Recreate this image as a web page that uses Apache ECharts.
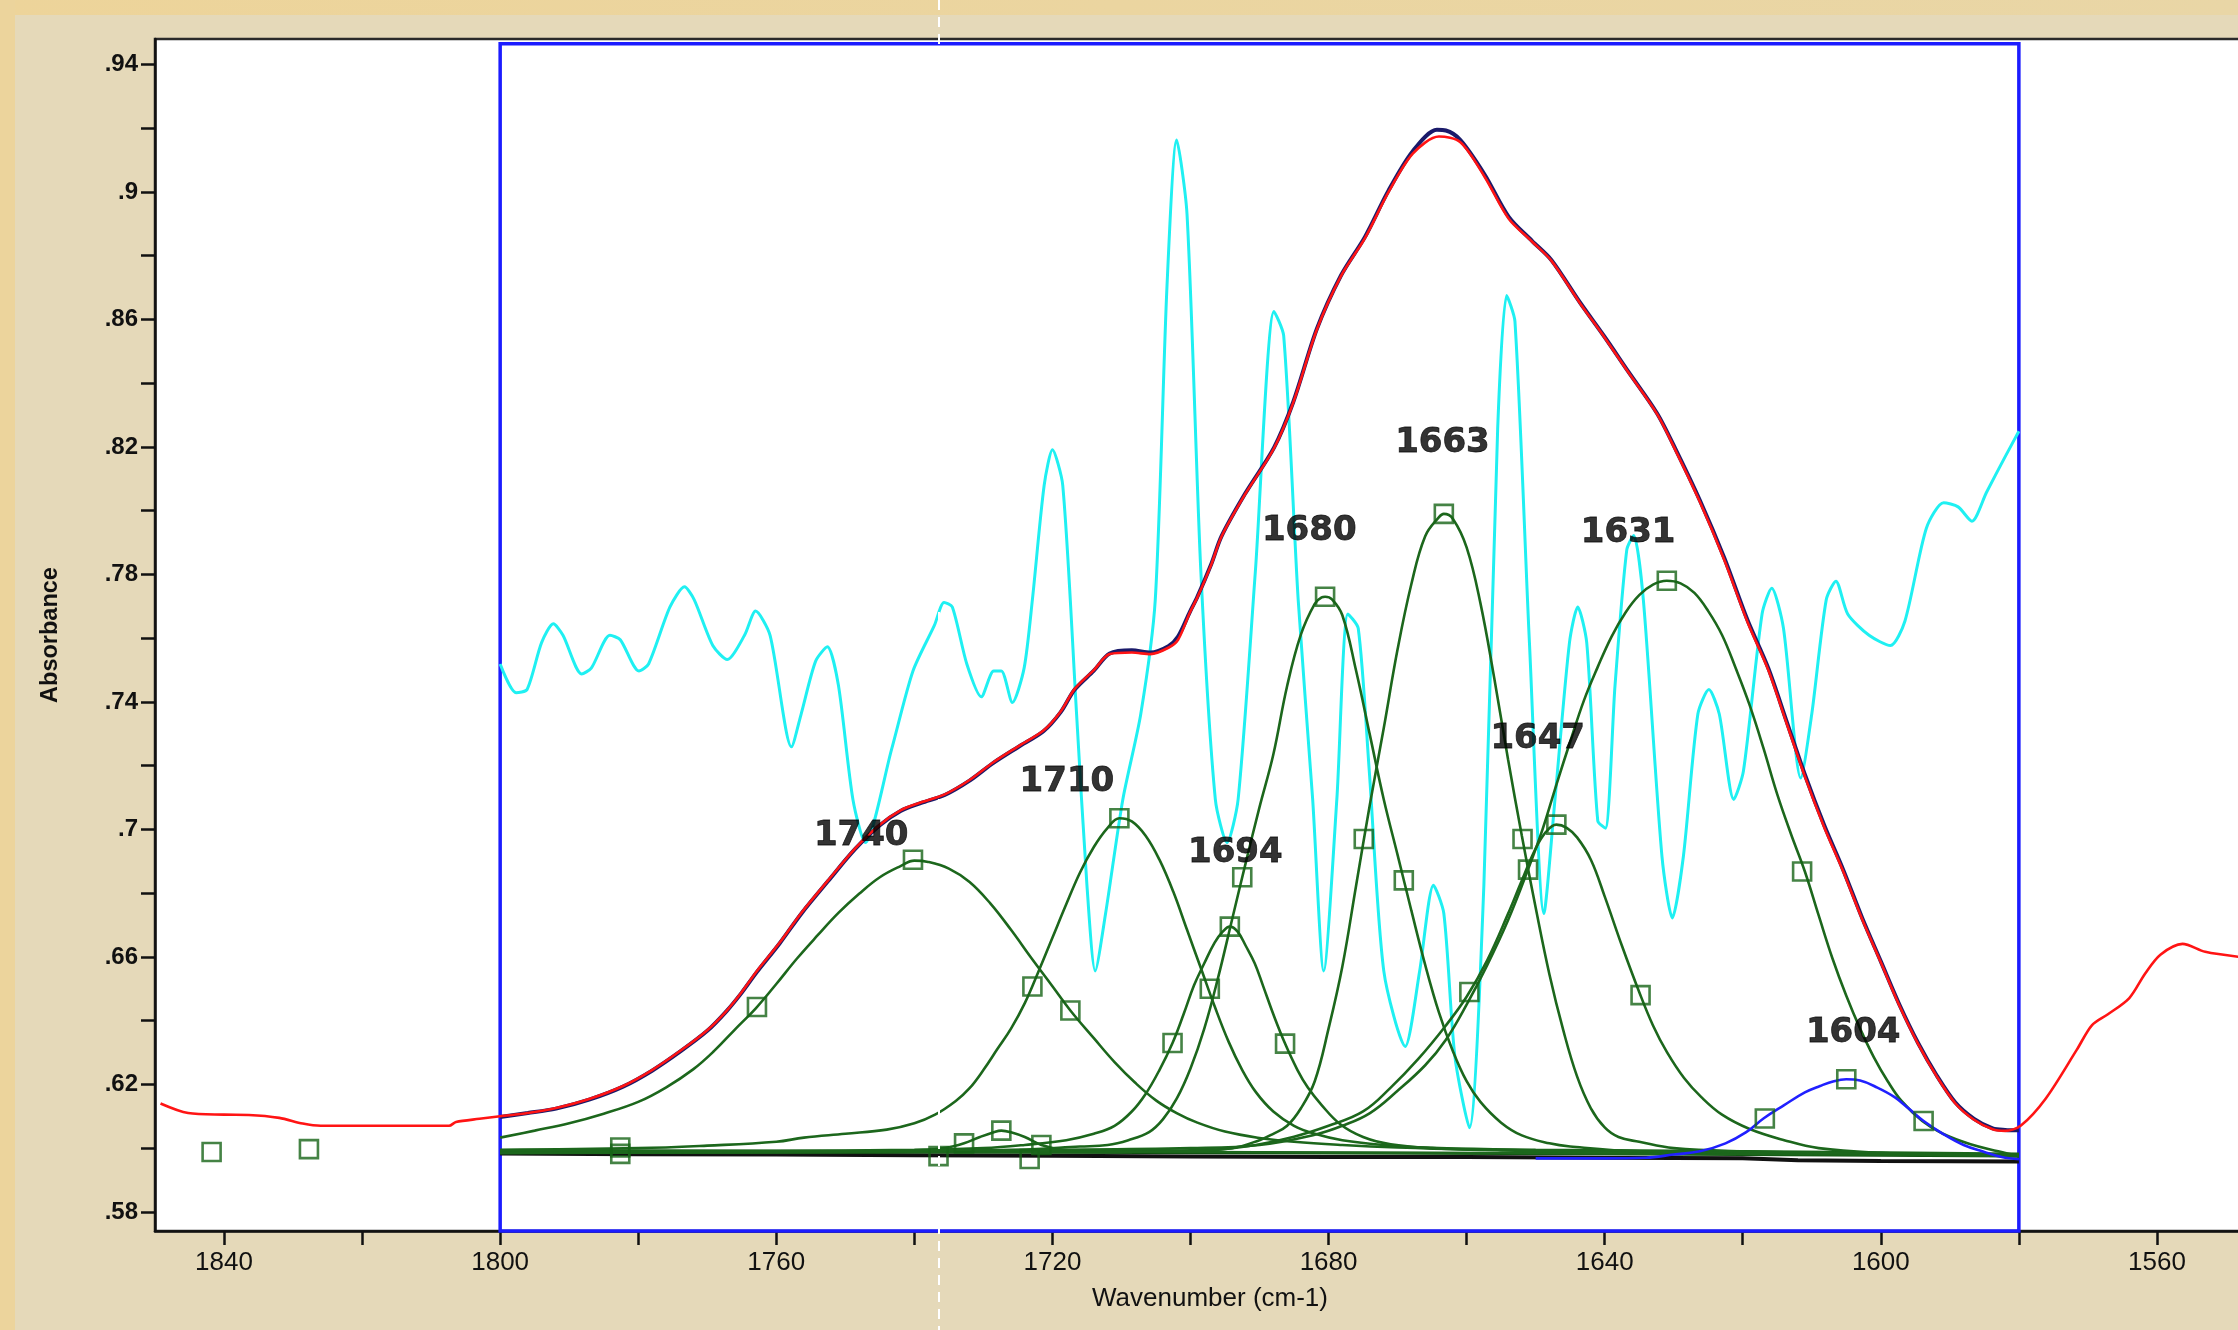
<!DOCTYPE html>
<html>
<head>
<meta charset="utf-8">
<script src="https://cdn.jsdelivr.net/npm/echarts@6/dist/echarts.min.js"></script>
<style>
html,body{margin:0;padding:0;overflow:hidden;background:#E5D9B9;}
#chart{width:2238px;height:1330px;}
</style>
</head>
<body>
<div id="chart"></div>
<script>
// ---- tick labels ----
const xTickValues = [1840,1820,1800,1780,1760,1740,1720,1700,1680,1660,1640,1620,1600,1580,1560];
const xLabelValues = [1840,1800,1760,1720,1680,1640,1600,1560];
const yTickValues = [0.58,0.60,0.62,0.64,0.66,0.68,0.70,0.72,0.74,0.76,0.78,0.80,0.82,0.84,0.86,0.88,0.90,0.92,0.94];
const yLabelValues = [0.58,0.62,0.66,0.70,0.74,0.78,0.82,0.86,0.90,0.94];

// ---- fitting range (blue box) ----
const fitRange = [1800, 1580];

// ---- measured spectrum (red) ----
const measured = [[1849.2,.614],[1845.2,.611],[1840,.6105],[1836.4,.6104],[1832,.6095],[1828.6,.6077],[1826,.607],[1818,.607],[1810,.607],[1807.4,.607],[1806.4,.6082],[1803,.6092],[1800,.610],[1796,.611],[1791.9,.6126],[1787,.6155],[1782.2,.6195],[1778,.6245],[1773.8,.6307],[1770,.637],[1767.2,.6431],[1765,.649],[1762.8,.6556],[1759.5,.6645],[1756.3,.674],[1752.5,.684],[1748.6,.694],[1745,.7015],[1742,.706],[1739,.7085],[1735.6,.711],[1732,.7155],[1728.6,.721],[1725,.726],[1721.3,.731],[1718.8,.737],[1716.8,.744],[1714,.750],[1711.7,.755],[1708.5,.7555],[1705.8,.755],[1703.2,.757],[1701.8,.7595],[1700.1,.768],[1699,.7728],[1697,.783],[1695.5,.7919],[1692.1,.8051],[1687.9,.8196],[1685.1,.834],[1681.7,.8568],[1678.2,.8736],[1674.7,.8856],[1671.3,.900],[1667.8,.912],[1664,.9174],[1660.9,.9156],[1657.4,.9048],[1653.9,.8916],[1650.5,.8844],[1647.7,.8784],[1643.6,.8652],[1640,.8543],[1636.6,.8435],[1632.4,.8303],[1629.6,.8183],[1626.2,.8027],[1622.7,.7847],[1619.3,.765],[1616.3,.750],[1613.6,.733],[1610.9,.716],[1608.2,.7007],[1605.5,.6871],[1602.7,.6718],[1600,.6583],[1597.3,.6447],[1594.6,.6327],[1591.9,.6225],[1589.2,.614],[1586.5,.6089],[1583.8,.6059],[1582,.6054],[1579.7,.6071],[1576.1,.6156],[1571.6,.6309],[1569.4,.6386],[1567.1,.642],[1564,.6471],[1561.7,.6548],[1559.5,.6607],[1556.3,.6641],[1553,.6616],[1548,.660]];

// ---- fitted sum (navy) ----
const fittedSum = [[1800,.6098],[1796,.611],[1791.9,.6124],[1787,.6153],[1782.2,.6193],[1778,.6243],[1773.8,.6305],[1770,.6368],[1767.2,.643],[1765,.6488],[1762.8,.6553],[1759.5,.6643],[1756.3,.6738],[1752.5,.6838],[1748.6,.6938],[1745,.7013],[1742,.7058],[1739,.7083],[1735.6,.7108],[1732,.7153],[1728.6,.7208],[1725,.7258],[1721.3,.7308],[1718.8,.7368],[1716.8,.7438],[1714,.7498],[1711.7,.7552],[1708.5,.7562],[1705.8,.7555],[1703.2,.7575],[1701.8,.7605],[1700.1,.7682],[1699,.773],[1697,.7832],[1695.5,.792],[1692.1,.8053],[1687.9,.8198],[1685.1,.8342],[1681.7,.857],[1678.2,.8738],[1674.7,.886],[1671.3,.9005],[1667.8,.9128],[1664.3,.9195],[1663,.9193],[1660.9,.9163],[1657.4,.9055],[1653.9,.8922],[1650.5,.8846],[1647.7,.8786],[1643.6,.8654],[1640,.8545],[1636.6,.8437],[1632.4,.8305],[1629.6,.8187],[1626.2,.8032],[1622.7,.7853],[1619.3,.7656],[1616.3,.7506],[1613.6,.7336],[1610.9,.7166],[1608.2,.7013],[1605.5,.6876],[1602.7,.6722],[1600,.6586],[1597.3,.645],[1594.6,.633],[1591.9,.6228],[1589.2,.6143],[1586.5,.6092],[1583.8,.6062],[1582,.6057],[1580,.6056]];

// ---- second derivative (cyan, scaled) ----
const secondDeriv = [[1800,.7519],[1797.7,.7429],[1796.1,.7439],[1794,.7586],[1792.3,.7645],[1790.9,.7609],[1788.2,.7488],[1786.8,.7506],[1784.1,.7609],[1782.6,.7595],[1779.9,.7497],[1778.5,.7519],[1775.4,.7698],[1773.3,.7761],[1771.9,.7721],[1769.2,.7577],[1767.1,.7533],[1764.6,.7609],[1763,.7685],[1760.9,.7609],[1757.8,.7259],[1756.4,.7362],[1754.3,.7528],[1752.6,.7573],[1751,.7452],[1748.9,.7094],[1747.1,.6959],[1743.3,.7251],[1740.2,.7497],[1737.1,.764],[1735.7,.7712],[1734.5,.7698],[1732.4,.7519],[1730.3,.7416],[1728.5,.7497],[1727.4,.7497],[1725.8,.7398],[1724.1,.7506],[1722.9,.7721],[1721.2,.8079],[1720,.8191],[1718.5,.8079],[1716.5,.7362],[1715,.6825],[1713.8,.6556],[1712.3,.6736],[1709.8,.7094],[1707.2,.7362],[1705.1,.7721],[1703.4,.8706],[1702,.9163],[1700.5,.893],[1698.5,.781],[1696.4,.7094],[1694.7,.6959],[1693.1,.7094],[1690.6,.781],[1687.9,.8625],[1686.5,.8549],[1684.4,.7721],[1682.3,.7094],[1680.7,.6556],[1678.8,.7094],[1677.2,.7676],[1675.7,.7631],[1674.1,.7183],[1672,.6556],[1668.9,.6319],[1666.8,.6556],[1664.8,.6825],[1663.3,.6736],[1661.7,.6288],[1659.6,.6064],[1657.5,.6825],[1655.5,.8258],[1654.2,.8675],[1653,.8594],[1650.9,.7586],[1648.8,.6736],[1647.2,.7094],[1645.1,.7586],[1643.9,.7698],[1642.6,.7586],[1641,.7027],[1639.9,.7004],[1638.5,.7452],[1636.8,.7877],[1635.8,.7922],[1634.4,.7721],[1631.7,.6915],[1630.2,.6722],[1628.6,.6915],[1626.5,.7362],[1624.9,.7439],[1623.4,.7362],[1621.3,.7094],[1619.9,.7183],[1617.2,.7676],[1615.8,.7757],[1614.1,.7631],[1611.6,.7161],[1610,.7362],[1607.9,.7721],[1606.5,.7779],[1604.8,.7676],[1601.7,.7609],[1598.6,.7577],[1596.5,.7654],[1593.4,.7945],[1590.9,.8025],[1588.8,.8012],[1586.8,.7967],[1584.7,.8057],[1582,.8169],[1580,.8249]];

// ---- fitted components (green) ----
const band1740 = [[1800,.6033],[1795,.6055],[1790,.6078],[1785,.6108],[1780,.6145],[1776,.619],[1772,.6248],[1769,.6305],[1766,.6372],[1763,.6438],[1760,.6515],[1757,.6595],[1754,.6668],[1751,.6738],[1748,.6798],[1745,.685],[1742,.6885],[1740,.6902],[1738,.6898],[1735,.6877],[1732,.6835],[1729,.6768],[1726,.6685],[1723,.6595],[1720,.6508],[1717.4,.6432],[1714,.6345],[1711,.627],[1708,.6205],[1705,.615],[1702,.611],[1699,.608],[1695,.6052],[1690,.6032],[1685,.602],[1678,.601],[1670,.6002],[1660,.5996],[1640,.599],[1620,.5985],[1600,.598],[1580,.5976]];
const band1728 = [[1800,.5988],[1745,.5988],[1740,.599],[1736.5,.5998],[1734.5,.6005],[1732.8,.6015],[1730.5,.6035],[1728.5,.605],[1727.4,.6055],[1726,.605],[1724,.6035],[1721.6,.601],[1718.5,.5995],[1714,.599],[1700,.5988],[1580,.5978]];
const band1710 = [[1800,.5995],[1780,.6],[1770,.6008],[1760,.602],[1756,.6033],[1750,.6045],[1744,.6058],[1740,.6078],[1737,.6105],[1734,.6148],[1732,.6188],[1730,.6245],[1728,.631],[1726,.6375],[1724,.6455],[1722,.6555],[1720,.666],[1718,.6765],[1716,.6865],[1714,.6945],[1712,.7005],[1710.3,.7035],[1708.5,.7025],[1706.5,.698],[1704.5,.6905],[1702.5,.6805],[1700.5,.6685],[1698.5,.6565],[1696.5,.6445],[1694.5,.6335],[1692.5,.6245],[1690.5,.6175],[1688,.6115],[1685,.607],[1682,.6045],[1678,.6025],[1672,.601],[1664,.600],[1650,.5995],[1620,.599],[1580,.5982]];
const band1694 = [[1800,.5992],[1760,.5992],[1740,.5995],[1730,.600],[1724,.601],[1718,.6025],[1714,.6045],[1711,.607],[1708.5,.6115],[1706.5,.617],[1704.5,.6245],[1702.6,.633],[1701,.642],[1699.5,.651],[1698,.658],[1696.5,.6645],[1695.3,.668],[1694.3,.6695],[1693.2,.668],[1692,.6635],[1690.7,.658],[1689.5,.651],[1688,.642],[1686.3,.6328],[1684.5,.6245],[1683,.619],[1681,.6135],[1678.3,.6075],[1675,.6035],[1671,.6012],[1665,.6],[1655,.5993],[1640,.599],[1610,.5985],[1580,.598]];
const band1680 = [[1800,.599],[1740,.599],[1725,.5995],[1716,.6005],[1712,.601],[1709,.6025],[1706,.605],[1704,.609],[1702,.6155],[1700,.625],[1698,.6375],[1696,.6535],[1694,.6715],[1692,.6895],[1690,.707],[1688,.7235],[1686,.745],[1684,.7612],[1682,.7708],[1681,.7728],[1680.5,.773],[1679.5,.7722],[1678,.7672],[1676,.7497],[1674,.7295],[1672,.7094],[1670,.692],[1668,.6745],[1666,.6575],[1664,.6425],[1662,.6305],[1660,.621],[1658,.6145],[1655,.608],[1652,.604],[1648,.6015],[1645,.6005],[1635,.599],[1610,.5985],[1580,.598]];
const band1663 = [[1800,.5985],[1720,.599],[1700,.5993],[1694,.600],[1690,.6025],[1688,.6045],[1686,.607],[1684,.6125],[1682,.621],[1680,.6375],[1678,.657],[1676,.6825],[1674,.708],[1672,.7318],[1670,.7565],[1668,.777],[1666,.792],[1664,.798],[1663.3,.799],[1662,.7975],[1660,.7885],[1658,.771],[1656,.7475],[1654,.722],[1652,.698],[1650,.6755],[1648,.6545],[1646,.637],[1644,.6225],[1642,.6125],[1640,.6065],[1638,.6035],[1635,.602],[1630,.600],[1620,.599],[1600,.5982],[1580,.5975]];
const band1647 = [[1800,.5985],[1720,.5988],[1700,.599],[1692,.6005],[1685,.6036],[1680,.607],[1675,.6115],[1671,.619],[1667,.628],[1663,.6385],[1660,.6475],[1657,.659],[1654,.6735],[1652,.684],[1650,.694],[1648.5,.6992],[1647,.7015],[1645.5,.7005],[1644,.6975],[1642,.6905],[1640,.679],[1637.5,.6635],[1635,.649],[1633,.6385],[1631,.6302],[1628.5,.622],[1626,.616],[1623,.6105],[1619,.606],[1614,.6025],[1609,.600],[1600,.5985],[1590,.598],[1580,.5975]];
const band1631 = [[1800,.5985],[1760,.599],[1720,.5995],[1700,.6],[1690,.601],[1682,.6042],[1678,.607],[1674,.611],[1670,.618],[1666,.626],[1663,.634],[1660,.645],[1657,.6575],[1654,.6715],[1651,.688],[1649,.700],[1647,.714],[1645,.7275],[1643,.7405],[1641,.751],[1639,.7605],[1637,.768],[1635,.7735],[1633,.7768],[1631,.778],[1629,.7772],[1627,.7742],[1625,.7685],[1623,.761],[1621,.7505],[1619,.739],[1617,.7255],[1615,.711],[1613,.6985],[1611,.6868],[1609,.673],[1607,.6595],[1605,.6478],[1603,.6375],[1601,.6285],[1599,.621],[1597,.6148],[1594,.6085],[1591,.6045],[1587,.6012],[1583,.599],[1580,.5975]];
const band1604 = [[1650,.5968],[1640,.5968],[1634,.597],[1630,.598],[1626.2,.599],[1622.5,.6015],[1619.5,.605],[1617,.6093],[1614,.6135],[1611,.6175],[1608.8,.6195],[1606.8,.621],[1605,.6216],[1603,.6212],[1600.5,.619],[1598,.616],[1596,.6125],[1593.8,.6085],[1591,.6045],[1588,.601],[1585,.5988],[1582.5,.5972],[1580,.5965]];
const baselineBlack = [[1800,.5983],[1780,.5981],[1760,.598],[1740,.5978],[1720,.5976],[1700,.5974],[1680,.5972],[1660,.5972],[1640,.597],[1620,.5968],[1612,.5962],[1600,.596],[1580,.5958]];
const baselineGreen = [[1800,.5992],[1760,.599],[1720,.5987],[1680,.5985],[1640,.5982],[1600,.5978],[1580,.5975]];

// ---- peak / half-height markers ----
const markerPoints = [[1841.8,.5988],[1827.7,.5997],[1782.6,.6002],[1782.6,.5982],[1762.8,.6443],[1740.2,.6905],[1736.5,.5975],[1732.8,.6015],[1727.4,.6055],[1723.3,.5966],[1721.6,.6010],[1722.9,.6507],[1717.4,.6432],[1710.3,.7035],[1702.6,.633],[1697.2,.650],[1694.3,.6695],[1692.5,.685],[1686.3,.6328],[1680.5,.773],[1674.9,.697],[1669.1,.684],[1663.3,.799],[1659.6,.649],[1651.9,.697],[1651.1,.6874],[1647,.7015],[1634.8,.648],[1631,.778],[1616.8,.6093],[1611.4,.6868],[1605,.6216],[1593.8,.6085]];

// ---- peak labels ----
const peakNames = ['1740','1710','1694','1680','1663','1647','1631','1604'];
const peakLabelPos = [[1747.7,.6978],[1717.9,.7147],[1693.5,.6924],[1682.8,.7936],[1663.5,.8213],[1649.7,.7282],[1636.6,.7931],[1604,.636]];

const GREEN = '#1c671c';
const componentBands = [band1740, band1728, band1710, band1694, band1680, band1663, band1647, band1631];

const chart = echarts.init(document.getElementById('chart'), null, {renderer: 'canvas'});

const fmtY = v => String(+v.toFixed(2)).replace(/^0\./, '.');
const fmtX = v => String(Math.round(v));

const series = [];
series.push({
  type: 'line', data: secondDeriv, showSymbol: false, symbol: 'none', smooth: 0.25,
  lineStyle: {color: '#1ff0f2', width: 3}, z: 2, silent: true
});
series.push({
  type: 'line', data: baselineBlack, symbol: 'none', lineStyle: {color: '#111111', width: 4}, z: 3, silent: true
});
series.push({
  type: 'line', data: baselineGreen, symbol: 'none', lineStyle: {color: '#0f4f0f', width: 3}, z: 3, silent: true
});
componentBands.forEach(b => {
  series.push({
    type: 'line', data: b, symbol: 'none', smooth: 0.4,
    lineStyle: {color: GREEN, width: 2.6}, z: 4, silent: true
  });
});
series.push({
  type: 'line', data: band1604, symbol: 'none', smooth: 0.4,
  lineStyle: {color: '#2020ff', width: 2.6}, z: 4, silent: true
});
series.push({
  type: 'line', data: fittedSum, symbol: 'none', smooth: 0.3,
  lineStyle: {color: '#1a1a6a', width: 4}, z: 5, silent: true
});
series.push({
  type: 'line', data: measured, symbol: 'none', smooth: 0.3,
  lineStyle: {color: '#ff1414', width: 2.6}, z: 6, silent: true
});
series.push({
  type: 'scatter', data: markerPoints, symbol: 'rect', symbolSize: 18,
  itemStyle: {color: 'rgba(0,0,0,0)', borderColor: '#176417', borderWidth: 2.6},
  z: 7, silent: true
});
series.push({
  type: 'scatter',
  data: peakNames.map((n, i) => ({name: n, value: peakLabelPos[i]})),
  symbolSize: 0,
  label: {show: true, position: 'inside', formatter: p => p.name,
          fontFamily: 'DejaVu Sans', fontWeight: 'bold', fontSize: 34, color: '#000',
          textBorderColor: '#000', textBorderWidth: 0.8},
  z: 8, silent: true
});
series.push({
  type: 'line', data: [], z: 9, silent: true,
  markArea: {
    silent: true,
    itemStyle: {color: 'rgba(0,0,0,0)', borderColor: '#1c1cff', borderWidth: 3.5},
    label: {show: false},
    data: [[{xAxis: fitRange[0], yAxis: 0.9465}, {xAxis: fitRange[1], yAxis: 0.574}]]
  }
});

chart.setOption({
  animation: false,
  backgroundColor: '#E5D9B9',
  grid: {
    left: 155, top: 39, bottom: 99, right: -57,
    show: true, backgroundColor: '#ffffff', borderColor: '#2a2a2a', borderWidth: 2.5,
    containLabel: false, outerBoundsMode: 'none'
  },
  xAxis: {
    type: 'value', inverse: true, min: 1540, max: 1850,
    name: 'Wavenumber (cm-1)', nameLocation: 'middle', nameGap: 55,
    nameTextStyle: {fontFamily: 'Liberation Sans', fontSize: 26, color: '#111', padding: [0, 30, 0, 0]},
    axisLine: {show: true, onZero: false, lineStyle: {color: '#111', width: 2.5}},
    axisTick: {show: true, inside: false, length: 14, customValues: xTickValues, lineStyle: {color: '#111', width: 2.5}},
    axisLabel: {show: true, customValues: xLabelValues, formatter: fmtX, margin: 19, fontFamily: 'Liberation Sans', fontSize: 26, color: '#111'},
    splitLine: {show: false}
  },
  yAxis: {
    type: 'value', min: 0.574, max: 0.948,
    name: 'Absorbance', nameLocation: 'middle', nameGap: 92,
    nameTextStyle: {fontFamily: 'Liberation Sans', fontSize: 23.5, fontWeight: 'bold', color: '#111'},
    axisLine: {show: true, onZero: false, lineStyle: {color: '#111', width: 2.5}},
    axisTick: {show: true, inside: false, length: 14, customValues: yTickValues, lineStyle: {color: '#111', width: 2.5}},
    axisLabel: {show: true, customValues: yLabelValues, margin: 17, formatter: fmtY,
                fontFamily: 'Liberation Sans', fontWeight: 'bold', fontSize: 24, color: '#111'},
    splitLine: {show: false}
  },
  graphic: [
    {type: 'rect', shape: {x: 0, y: 0, width: 2238, height: 15}, style: {fill: new echarts.graphic.LinearGradient(0,0,1,0,[{offset:0,color:'#EDD49A'},{offset:1,color:'#E9D6A6'}])}, z: -10, silent: true},
    {type: 'rect', shape: {x: 0, y: 0, width: 15, height: 1330}, style: {fill: '#ECD49C'}, z: -10, silent: true},
    {type: 'line', shape: {x1: 939, y1: 0, x2: 939, y2: 1330}, style: {stroke: '#ffffff', lineWidth: 2, lineDash: [10, 7]}, z: 100, silent: true}
  ],
  series: series
});
</script>
</body>
</html>
